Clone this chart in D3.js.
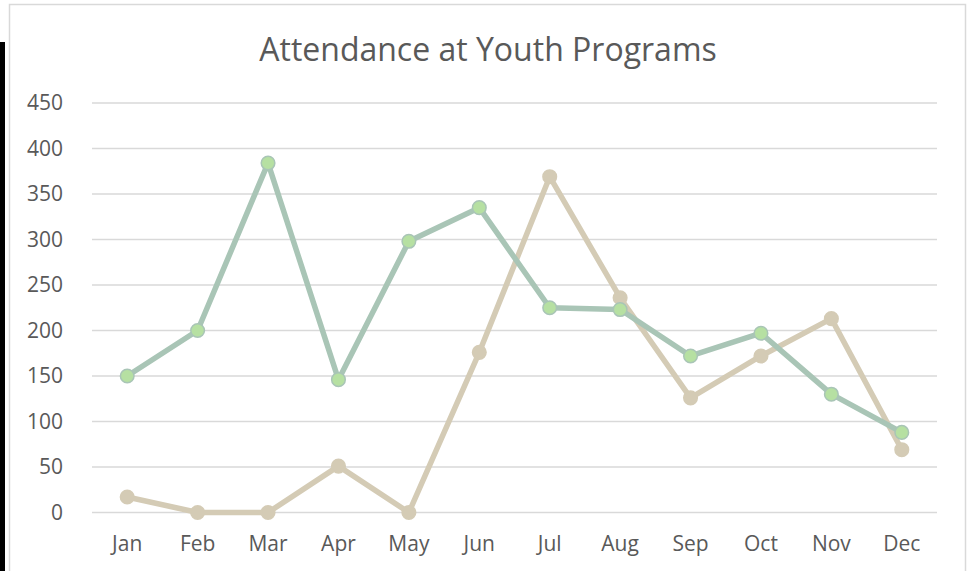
<!DOCTYPE html>
<html>
<head>
<meta charset="utf-8">
<script src="https://cdn.jsdelivr.net/npm/d3@7"></script>
<style>
  body { margin: 0; background: #fff; }
  svg text { font-family: "Open Sans", sans-serif; fill: #595959; }
</style>
</head>
<body>
<svg width="969" height="571"></svg>
<script>
const months = ["Jan", "Feb", "Mar", "Apr", "May", "Jun", "Jul", "Aug", "Sep", "Oct", "Nov", "Dec"];
const seriesGreen = [150, 200, 384, 146, 298, 335, 225, 223, 172, 197, 130, 88];
const seriesTan = [17, 0, 0, 51, 0, 176, 369, 236, 126, 172, 213, 69];
const yTicks = [0, 50, 100, 150, 200, 250, 300, 350, 400, 450];
const title = "Attendance at Youth Programs";

const svg = d3.select("svg");

// black strip on the left edge and the chart frame
svg.append("rect").attr("x", 0).attr("y", 42).attr("width", 5).attr("height", 529).attr("fill", "#000");
svg.append("rect")
  .attr("x", 9.5).attr("y", 4.5).attr("width", 956).attr("height", 580)
  .attr("fill", "#fff").attr("stroke", "#d9d9d9").attr("stroke-width", 1.5);

const margin = { top: 103, right: 32, bottom: 58, left: 92 };
const width = 937 - margin.left;
const height = 512.5 - margin.top;

const g = svg.append("g").attr("transform", "translate(" + margin.left + "," + margin.top + ")");

const x = d3.scaleBand().domain(months).range([0, width]);
const y = d3.scaleLinear().domain([0, 450]).range([height, 0]);

// gridlines
g.selectAll(".grid")
  .data(yTicks)
  .enter()
  .append("line")
  .attr("x1", 0).attr("x2", width)
  .attr("y1", d => y(d)).attr("y2", d => y(d))
  .attr("stroke", "#d9d9d9").attr("stroke-width", 1.5);

// y axis labels
const yAxis = g.append("g")
  .call(d3.axisLeft(y).tickValues(yTicks).tickSize(0).tickPadding(29));
yAxis.select(".domain").remove();
yAxis.selectAll("text").attr("font-size", 21).attr("fill", "#595959").style("font-family", null);

// x axis labels
const xAxis = g.append("g")
  .attr("transform", "translate(0," + height + ")")
  .call(d3.axisBottom(x).tickSize(0).tickPadding(24));
xAxis.select(".domain").remove();
xAxis.selectAll("text").attr("font-size", 21).attr("fill", "#595959").style("font-family", null);

svg.append("text")
  .attr("x", 488).attr("y", 61)
  .attr("text-anchor", "middle")
  .attr("font-size", 32)
  .text(title);

const line = d3.line()
  .x((d, i) => x(months[i]) + x.bandwidth() / 2)
  .y(d => y(d));

function drawSeries(values, lineColor, markerFill, markerStroke) {
  g.append("path")
    .datum(values)
    .attr("d", line)
    .attr("fill", "none")
    .attr("stroke", lineColor)
    .attr("stroke-width", 5.5)
    .attr("stroke-linejoin", "round");
  g.selectAll(null)
    .data(values)
    .enter()
    .append("circle")
    .attr("cx", (d, i) => x(months[i]) + x.bandwidth() / 2)
    .attr("cy", d => y(d))
    .attr("r", 6.8)
    .attr("fill", markerFill)
    .attr("stroke", markerStroke)
    .attr("stroke-width", 1.5);
}

drawSeries(seriesTan, "#d4cbb5", "#d4cbb5", "#d4cbb5");
drawSeries(seriesGreen, "#a9c5b6", "#b6e0a2", "#a9c5b6");
</script>
</body>
</html>
